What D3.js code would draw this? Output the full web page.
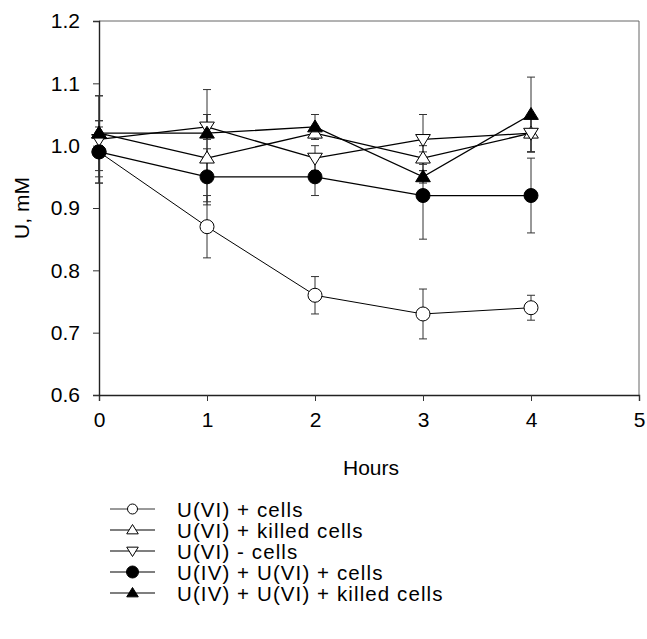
<!DOCTYPE html>
<html>
<head>
<meta charset="utf-8">
<script src="https://cdn.jsdelivr.net/npm/d3@7"></script>
<style>
  body { margin: 0; background: #fff; }
  text { font-family: "Liberation Sans", Arial, sans-serif; fill: #000; }
</style>
</head>
<body>
<svg id="chart" width="647" height="639"></svg>
<script>
'use strict';

// hours sampled
var hours = [0, 1, 2, 3, 4];

// series, in legend order
var seriesNames = [
  'U(VI) + cells',
  'U(VI) + killed cells',
  'U(VI) - cells',
  'U(IV) + U(VI) + cells',
  'U(IV) + U(VI) + killed cells'
];
var seriesSymbols = ['circle', 'triUp', 'triDown', 'circle', 'triUp'];
var seriesFilled = [false, false, false, true, true];

var uviCells        = [0.99, 0.87, 0.76, 0.73, 0.74];
var uviKilled       = [1.02, 0.98, 1.02, 0.98, 1.02];
var uviNoCells      = [1.01, 1.03, 0.98, 1.01, 1.02];
var uivUviCells     = [0.99, 0.95, 0.95, 0.92, 0.92];
var uivUviKilled    = [1.02, 1.02, 1.03, 0.95, 1.05];

// error bar half widths
var uviCellsErr     = [0.05, 0.05, 0.03, 0.04, 0.02];
var uviKilledErr    = [0.02, 0.07, 0.01, 0.02, 0.03];
var uviNoCellsErr   = [0.07, 0.02, 0.02, 0.04, 0.03];
var uivUviCellsErr  = [0.04, 0.045, 0.03, 0.07, 0.06];
var uivUviKilledErr = [0.06, 0.07, 0.02, 0.01, 0.06];

var values = [uviCells, uviKilled, uviNoCells, uivUviCells, uivUviKilled];
var errors = [uviCellsErr, uviKilledErr, uviNoCellsErr, uivUviCellsErr, uivUviKilledErr];

var xTicks = [0, 1, 2, 3, 4, 5];
var yTicks = [0.6, 0.7, 0.8, 0.9, 1.0, 1.1, 1.2];

var svg = d3.select('#chart');

var plotLeft = 99, plotRight = 639, plotTop = 21, plotBottom = 395;

var x = d3.scaleLinear().domain([0, 5]).range([plotLeft, plotRight]);
var y = d3.scaleLinear().domain([0.6, 1.2]).range([plotBottom, plotTop]);

// frame top / right
svg.append('path')
  .attr('d', 'M' + plotLeft + ',' + plotTop + 'H' + plotRight + 'V' + plotBottom)
  .attr('fill', 'none')
  .attr('stroke', '#666')
  .attr('stroke-width', 1);

var xAxis = svg.append('g')
  .attr('transform', 'translate(0,' + plotBottom + ')')
  .call(d3.axisBottom(x).tickValues(xTicks).tickSize(6).tickPadding(11).tickFormat(d3.format('d')));

var yAxis = svg.append('g')
  .attr('transform', 'translate(' + plotLeft + ',0)')
  .call(d3.axisLeft(y).tickValues(yTicks).tickSize(6).tickPadding(13).tickFormat(d3.format('.1f')));

[xAxis, yAxis].forEach(function(ax) {
  ax.attr('font-size', null).attr('font-family', null);
  ax.select('.domain').attr('stroke', '#222').attr('stroke-width', 1.4);
  ax.selectAll('.tick line').attr('stroke', '#333');
  ax.selectAll('.tick text')
    .style('font-size', '21px')
    .attr('fill', '#000');
});

svg.append('text')
  .attr('x', (plotLeft + plotRight) / 2 + 2)
  .attr('y', 475)
  .attr('text-anchor', 'middle')
  .style('font-size', '21px')
  .text('Hours');

svg.append('text')
  .attr('transform', 'translate(29,' + 208 + ') rotate(-90)')
  .attr('text-anchor', 'middle')
  .style('font-size', '21px')
  .text('U, mM');

// symbol drawer
function drawSymbol(g, kind, filled, cx, cy, big) {
  var fill = filled ? '#000' : '#fff';
  var s;
  if (kind === 'circle') {
    g.append('circle')
      .attr('cx', cx).attr('cy', cy)
      .attr('r', big ? 7 : (filled ? 6 : 5))
      .attr('fill', fill)
      .attr('stroke', '#000')
      .attr('stroke-width', 1);
  } else {
    s = big ? 7 : 5.5;
    var dir = kind === 'triUp' ? -1 : 1;
    var pts = [
      [cx, cy + dir * s],
      [cx - s * 1.05, cy - dir * s * 0.7],
      [cx + s * 1.05, cy - dir * s * 0.7]
    ];
    g.append('path')
      .attr('d', 'M' + pts.map(function(p) { return p.join(','); }).join('L') + 'Z')
      .attr('fill', fill)
      .attr('stroke', '#000')
      .attr('stroke-width', 1);
  }
}

var line = d3.line()
  .x(function(d, i) { return x(hours[i]); })
  .y(function(d) { return y(d); });

// error bars first
values.forEach(function(vals, si) {
  var g = svg.append('g').attr('class', 'err');
  vals.forEach(function(v, i) {
    var e = errors[si][i];
    var cx = x(hours[i]);
    g.append('line')
      .attr('x1', cx).attr('x2', cx)
      .attr('y1', y(v - e)).attr('y2', y(v + e))
      .attr('stroke', '#333').attr('stroke-width', 1);
    [v - e, v + e].forEach(function(ev) {
      g.append('line')
        .attr('x1', cx - 4).attr('x2', cx + 4)
        .attr('y1', y(ev)).attr('y2', y(ev))
        .attr('stroke', '#333').attr('stroke-width', 1);
    });
  });
});

// lines
values.forEach(function(vals, si) {
  svg.append('path')
    .datum(vals)
    .attr('d', line)
    .attr('fill', 'none')
    .attr('stroke', '#000')
    .attr('stroke-width', si === 0 ? 1 : 1.3);
});

// markers
values.forEach(function(vals, si) {
  var g = svg.append('g');
  vals.forEach(function(v, i) {
    drawSymbol(g, seriesSymbols[si], seriesFilled[si], x(hours[i]), y(v), true);
  });
});

// legend
var legendTop = 509, legendStep = 21;
seriesNames.forEach(function(name, si) {
  var g = svg.append('g');
  var ly = legendTop + si * legendStep;
  g.append('line')
    .attr('x1', 110).attr('x2', 155)
    .attr('y1', ly).attr('y2', ly)
    .attr('stroke', '#000')
    .attr('stroke-width', si === 0 ? 0.8 : 1.2);
  drawSymbol(g, seriesSymbols[si], seriesFilled[si], 132.5, ly, false);
  g.append('text')
    .attr('x', 177)
    .attr('y', ly + 7.5)
    .style('font-size', '20.5px')
    .style('letter-spacing', '1.1px')
    .text(name);
});
</script>
</body>
</html>
